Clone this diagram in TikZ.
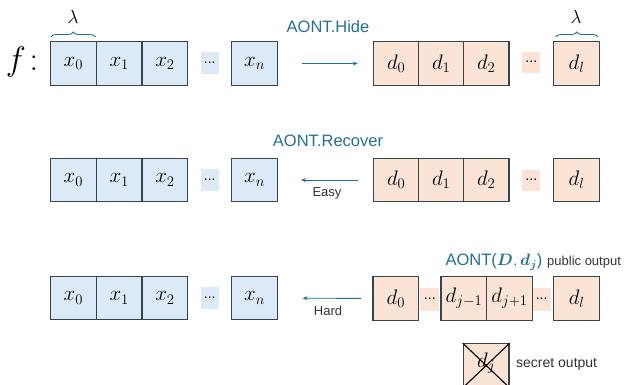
\RequirePackage{fix-cm}
\documentclass[tikz,border=0pt]{standalone}
\usepackage{amsmath}
\usepackage{bm}
\usepackage{fontspec}
\setmainfont{Liberation Sans}
\usetikzlibrary{decorations.pathreplacing,arrows.meta}

\definecolor{cellblue}{HTML}{DCE9F6}
\definecolor{cellpeach}{HTML}{FBE3D6}
\definecolor{celledge}{HTML}{34454F}
\definecolor{opteal}{HTML}{236F95}
\definecolor{notegray}{HTML}{333333}

\tikzset{
  cell/.style={draw=celledge, line width=1.2pt, minimum width=45.7pt, minimum height=43.5pt,
    inner sep=0pt, font=\fontsize{21}{25}\selectfont},
  xcell/.style={cell, fill=cellblue},
  dcell/.style={cell, fill=cellpeach},
  gapblue/.style={fill=cellblue, minimum width=18pt, minimum height=22pt, inner sep=0pt,
    font=\fontsize{14}{16}\selectfont},
  gappeach/.style={fill=cellpeach, minimum width=18pt, minimum height=21pt, inner sep=0pt,
    font=\fontsize{14}{16}\selectfont},
  opname/.style={text=opteal, font=\fontsize{16.5}{19}\selectfont, inner sep=0pt},
  note/.style={text=notegray, font=\fontsize{13}{15}\selectfont, inner sep=0pt},
  flow/.style={draw=opteal, line width=0.9pt, -{Stealth[length=5pt,width=4pt]}},
  widthbrace/.style={draw=opteal, line width=0.9pt,
    decorate, decoration={brace, amplitude=5pt}},
  lam/.style={inner sep=0pt, font=\fontsize{19}{22}\selectfont},
}

\begin{document}
\begin{tikzpicture}[x=1pt, y=-1pt]
\clip (0,0) rectangle (628,384);
\useasboundingbox (0,0) rectangle (628,384);

% ---- row 1: f maps x to d ----
\node[inner sep=0pt, font=\fontsize{34}{38}\selectfont] (f) at (22,62) {$f\!:$};

\node[xcell] (xa0) at (73.4,63.5) {$x_0$};
\node[xcell] (xa1) at (119.2,63.5) {$x_1$};
\node[xcell] (xa2) at (165.0,63.5) {$x_2$};
\node[gapblue] (xadots) at (209.7,63) {...};
\node[xcell] (xan) at (254.5,63.5) {$x_n$};

\node[dcell] (da0) at (396.2,63.5) {$d_0$};
\node[dcell] (da1) at (441.2,63.5) {$d_1$};
\node[dcell] (da2) at (486.2,63.5) {$d_2$};
\node[gappeach] (dadots) at (531.3,62) {...};
\node[dcell] (dal) at (576.5,63.5) {$d_l$};

\node[opname] (hide) at (328,27) {AONT.Hide};
\draw[flow, shorten <=24pt, shorten >=15pt] (xan) -- (da0);

\draw[widthbrace] (51,37) -- (95.5,37);
\node[lam] (lamx) at (73,17) {$\lambda$};
\draw[widthbrace] (555.5,37) -- (598,37);
\node[lam] (lamd) at (576,17) {$\lambda$};

% ---- row 2: easy recovery ----
\node[xcell] (xb0) at (73.4,180) {$x_0$};
\node[xcell] (xb1) at (119.2,180) {$x_1$};
\node[xcell] (xb2) at (165.0,180) {$x_2$};
\node[gapblue] (xbdots) at (209.7,180) {...};
\node[xcell] (xbn) at (254.5,180) {$x_n$};

\node[dcell] (db0) at (396.2,180) {$d_0$};
\node[dcell] (db1) at (441.2,180) {$d_1$};
\node[dcell] (db2) at (486.2,180) {$d_2$};
\node[gappeach] (dbdots) at (531.3,180) {...};
\node[dcell] (dbl) at (576.5,180) {$d_l$};

\node[opname] (recover) at (328,141) {AONT.Recover};
\draw[flow, shorten <=15pt, shorten >=23pt] (db0) -- (xbn);
\node[note] (easy) at (327,193) {Easy};

% ---- row 3: hard recovery without d_j ----
\node[xcell] (xc0) at (73.4,298) {$x_0$};
\node[xcell] (xc1) at (119.2,298) {$x_1$};
\node[xcell] (xc2) at (165.0,298) {$x_2$};
\node[gapblue] (xcdots) at (209.7,298) {...};
\node[xcell] (xcn) at (254.5,298) {$x_n$};

\node[dcell] (dc0) at (395.8,298.5) {$d_0$};
\node[gappeach, minimum width=19pt, minimum height=23pt] (dcdotsa) at (429.8,299) {...};
\node[dcell] (dcjm) at (463.9,298.5) {$d_{j-1}$};
\node[dcell] (dcjp) at (509.5,298.5) {$d_{j+1}$};
\node[gappeach, minimum height=23pt] (dcdotsb) at (541.6,299) {...};
\node[dcell] (dcl) at (576.7,298.5) {$d_l$};

\node[opname] (pub) at (494,262) {AONT($\bm{D},\bm{d_j}$)};
\node[note, anchor=west] (publabel) at (547,262) {public output};
\draw[flow, shorten <=11.5pt, shorten >=24.5pt] (dc0) -- (xcn);
\node[note] (hard) at (328,311) {Hard};

% ---- withheld block ----
\node[dcell] (dsecret) at (486.2,365.5) {};
\node[inner sep=0pt, font=\fontsize{21}{25}\selectfont] (djlabel) at (486.2,363) {$d_j$};
\draw[line width=1.1pt, black] (dsecret.north west) -- (dsecret.south east);
\draw[line width=1.1pt, black] (dsecret.north east) -- (dsecret.south west);
\node[note, font=\fontsize{14}{16}\selectfont, anchor=west] (seclabel) at (516,364) {secret output};
\end{tikzpicture}
\end{document}
